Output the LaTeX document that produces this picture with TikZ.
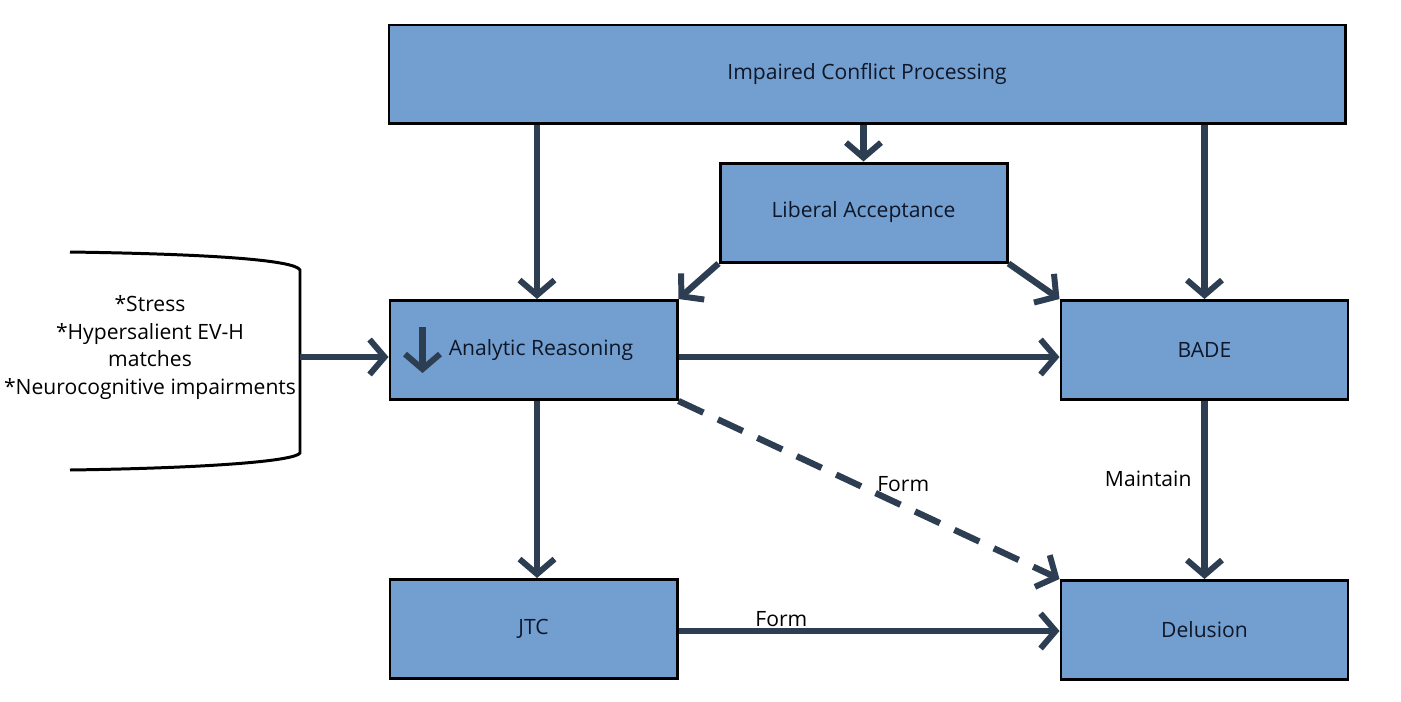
\documentclass[tikz,border=0pt]{standalone}
\usepackage{fontspec}
\setmainfont{Open Sans}
\usetikzlibrary{arrows.meta,positioning}
\definecolor{boxblue}{RGB}{114,159,207}
\definecolor{arrowslate}{RGB}{46,62,82}
\definecolor{inktext}{RGB}{15,22,40}

\begin{document}
\begin{tikzpicture}[
  node distance=3.54cm and 7.62cm,
  box/.style={rectangle, draw=black, line width=1.7pt, fill=boxblue, minimum width=5.74cm, minimum height=1.98cm, font=\fontsize{12}{14}\selectfont, text=inktext},
  arr/.style={-{Straight Barb[length=3mm, width=7mm, line width=3.4pt]}, line width=3.6pt, arrowslate},
  darr/.style={-{Straight Barb[length=3mm, width=7mm, line width=3.4pt]}, line width=3.6pt, arrowslate, dash pattern=on 5.5mm off 3.2mm},
  lbl/.style={font=\fontsize{12}{14}\selectfont, text=black}
]
  \useasboundingbox (0,0) rectangle (28.02,-14.02);

  % Top row
  \node[box, minimum width=19.12cm, minimum height=1.96cm] (conflict) at (17.34,-1.48) {Impaired Conflict Processing};
  \node[box] (liberal) at (17.27,-4.25) {Liberal Acceptance};

  % Middle row
  \node[box] (analytic) at (10.67,-7.0) {\hspace{0.3cm}Analytic Reasoning};
  \node[box, right=of analytic] (bade) {BADE};

  % Bottom row
  \node[box, below=of analytic] (jtc) {JTC};
  \node[box, below=3.56cm of bade] (delusion) {Delusion};

  % Factors on the left
  \draw[line width=1.7pt] (1.4,-5.04) .. controls (4.2,-5.08) and (5.9,-5.2) .. (6.0,-5.4)
    -- (6.0,-9.06) .. controls (5.9,-9.22) and (4.2,-9.36) .. (1.4,-9.4);
  \node[lbl, align=center, font=\fontsize{12}{15.7}\selectfont] (factors) at (3.0,-6.95)
    {*Stress\\*Hypersalient EV-H\\matches\\*Neurocognitive impairments};
  \coordinate (factors out) at (6.0,-7.14);

  % Arrows
  \draw[arr] (factors out) -- (factors out -| analytic.west);
  \draw[arr] ([xshift=0.07cm]analytic.north |- conflict.south) -- ([xshift=0.07cm]analytic.north);
  \draw[arr] (liberal.north |- conflict.south) -- (liberal.north);
  \draw[arr] (bade.north |- conflict.south) -- (bade.north);
  \draw[arr] (liberal.south west) -- (analytic.north east);
  \draw[arr] (liberal.south east) -- (bade.north west);
  \draw[arr] ([yshift=-0.14cm]analytic.east) -- ([yshift=-0.14cm]bade.west);
  \draw[arr] ([xshift=0.07cm]analytic.south) -- ([xshift=0.07cm]jtc.north);
  \draw[darr] (analytic.south east) -- node[lbl, pos=0.59, above=0.1cm] {Form} (delusion.north west);
  \draw[arr] (bade.south) -- node[lbl, pos=0.44, left=0.08cm] {Maintain} (delusion.north);
  \draw[arr] ([yshift=-0.04cm]jtc.east) -- node[lbl, pos=0.27, above=-0.1cm] {Form} ([yshift=-0.04cm]jtc.east -| delusion.west);
  \draw[arr] ([xshift=0.68cm,yshift=-0.56cm]analytic.north west) -- ++(0,-0.92);
\end{tikzpicture}
\end{document}
